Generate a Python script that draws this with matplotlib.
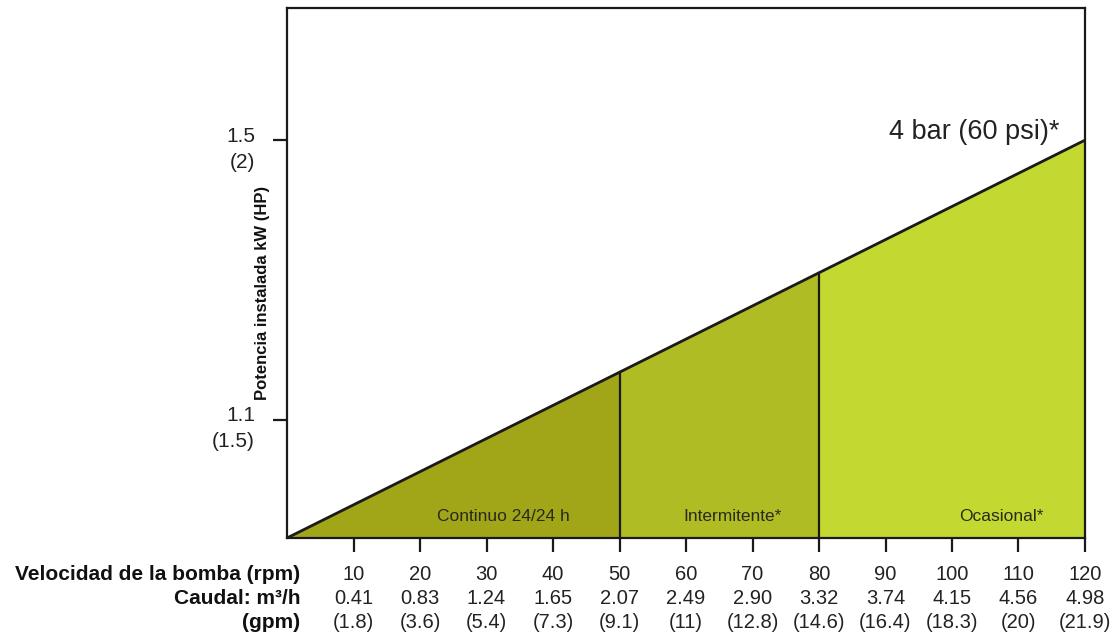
import matplotlib.pyplot as plt

plt.rcParams['font.family'] = ['Liberation Sans', 'DejaVu Sans']

# data
rpm = [10, 20, 30, 40, 50, 60, 70, 80, 90, 100, 110, 120]
caudal_m3h = ['0.41', '0.83', '1.24', '1.65', '2.07', '2.49', '2.90', '3.32', '3.74', '4.15', '4.56', '4.98']
caudal_gpm = ['(1.8)', '(3.6)', '(5.4)', '(7.3)', '(9.1)', '(11)', '(12.8)', '(14.6)',
              '(16.4)', '(18.3)', '(20)', '(21.9)']
kw_ticks = [1.1, 1.5]
hp_labels = ['(1.5)', '(2)']

line_rpm = [0, 120]
line_kw = [0.931, 1.5]

zones = ['Continuo 24/24 h', 'Intermitente*', 'Ocasional*']
zone_edges = [0, 50, 80, 120]
zone_colors = ['#a0a618', '#b0bc24', '#c3d830']
zone_label_x = [32.5, 67, 107.5]


def kw_at(x):
    return line_kw[0] + (line_kw[1] - line_kw[0]) * (x - line_rpm[0]) / (line_rpm[1] - line_rpm[0])


PX = 0.72  # pixels -> points at 100 dpi
fig = plt.figure(figsize=(11.11, 6.41), dpi=100)
ax = fig.add_axes([287 / 1111, 103 / 641, 798 / 1111, 530 / 641])
ax.set_xlim(0, 120)
ax.set_ylim(0.931, 1.689)

# shaded zones under the line
for i in range(3):
    x0, x1 = zone_edges[i], zone_edges[i + 1]
    ax.fill_between([x0, x1], [line_kw[0]] * 2, [kw_at(x0), kw_at(x1)],
                    color=zone_colors[i], lw=0)
    ax.text(zone_label_x[i], 0.962, zones[i], ha='center', va='center',
            fontsize=12.5, color='#2a2a1a')

for x in zone_edges[1:3]:
    ax.plot([x, x], [line_kw[0], kw_at(x)], color='#1a1a1a', lw=1.6)

ax.plot(line_rpm, line_kw, color='#1a1a1a', lw=2)
ax.text(103.3, 1.512, '4 bar (60 psi)*', ha='center', va='center', fontsize=19.5, color='#222222')

for s in ax.spines.values():
    s.set_linewidth(1.6)
    s.set_color('#1a1a1a')

# x ticks with three rows of labels
ax.set_xticks(rpm)
ax.set_xticklabels([])
ax.tick_params(axis='x', direction='out', length=10, width=1.6, color='#1a1a1a')
xt = ax.get_xaxis_transform()
rows = [[str(v) for v in rpm], caudal_m3h, caudal_gpm]
row_y = [-37, -61, -84]
for labels, dy in zip(rows, row_y):
    for x, lab in zip(rpm, labels):
        ax.annotate(lab, (x, 0), xycoords=xt, xytext=(0, dy * PX), textcoords='offset points',
                    ha='center', va='center', fontsize=14.5, color='#222222')

left_titles = ['Velocidad de la bomba (rpm)', 'Caudal: m³/h', '(gpm)']
for t, dy in zip(left_titles, row_y):
    ax.annotate(t, (0, 0), xycoords='axes fraction', xytext=(13 * PX, dy * PX),
                textcoords='offset points', ha='right', va='center',
                fontsize=15, fontweight='bold', color='#111111')

# y ticks with kW and HP labels
ax.set_yticks(kw_ticks)
ax.set_yticklabels([])
ax.tick_params(axis='y', direction='out', length=10, width=1.6, color='#1a1a1a')
yt = ax.get_yaxis_transform()
for y, hp in zip(kw_ticks, hp_labels):
    ax.annotate(f'{y}', (0, y), xycoords=yt, xytext=(-32 * PX, 4 * PX), textcoords='offset points',
                ha='right', va='center', fontsize=15, color='#222222')
    ax.annotate(hp, (0, y), xycoords=yt, xytext=(-32 * PX, -22 * PX), textcoords='offset points',
                ha='right', va='center', fontsize=15, color='#222222')

ax.annotate('Potencia instalada kW (HP)', (0, 0.5), xycoords='axes fraction',
            xytext=(-25 * PX, (273 - 293) * PX), textcoords='offset points',
            rotation=90, ha='center', va='center', fontsize=12, fontweight='bold', color='#111111')

fig.savefig('out.png', dpi=100)
